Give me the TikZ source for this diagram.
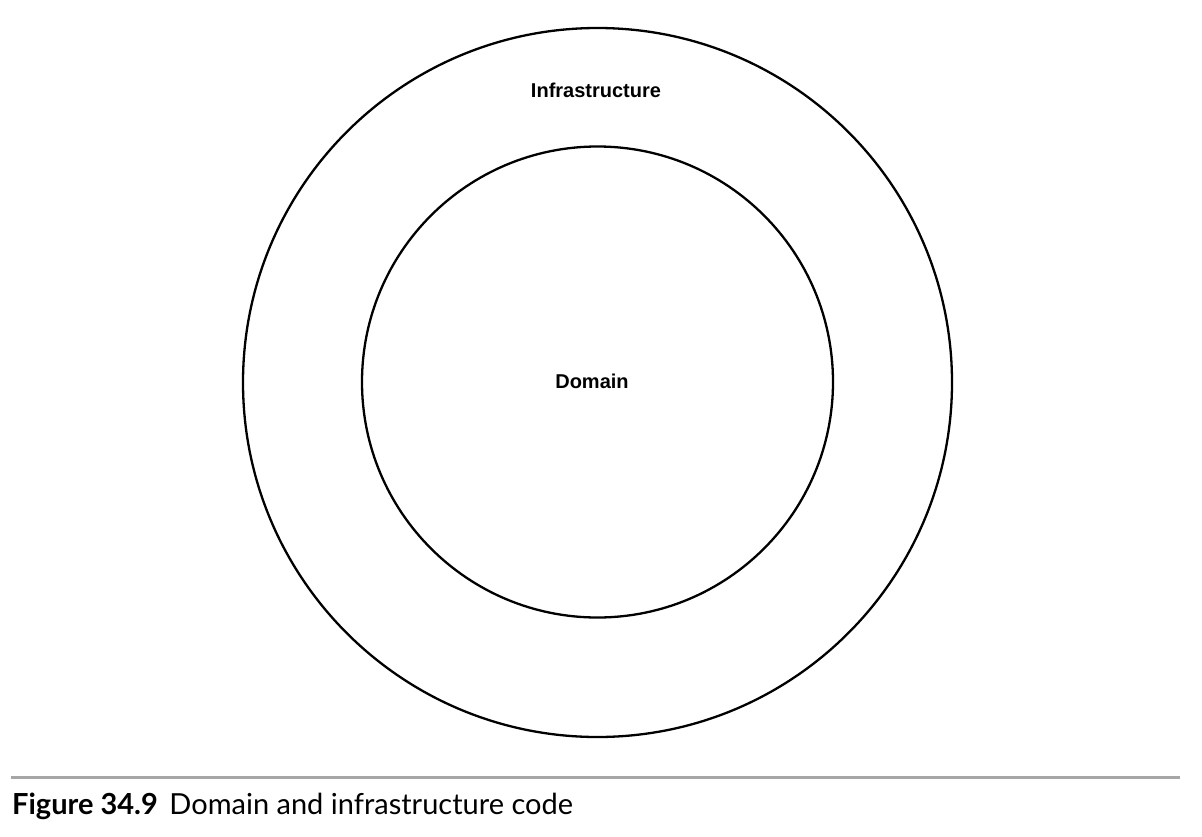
\documentclass[tikz,border=0pt]{standalone}
\usepackage{fontspec}
\setmainfont{Liberation Sans}
\newfontfamily\capfont{Lato}
\begin{document}
\begin{tikzpicture}[x=1pt,y=-1pt,
  ring/.style={draw=black,line width=2.3pt,circle,inner sep=0pt},
  lbl/.style={font=\fontsize{20}{23}\selectfont\bfseries,inner sep=0pt}]
\useasboundingbox (0,0) rectangle (1202,836);
\node[ring,minimum size=709pt] (outer) at (597.5,382.5) {};
\node[ring,minimum size=471pt] (inner) at (597.5,382) {};
\node[lbl] (infra) at (596,90) {Infrastructure};
\node[lbl] (domain) at (592,381) {Domain};
\draw[draw=black!35,line width=3pt] (11,777.5) -- (1180,777.5);
\node[anchor=base west,inner sep=0pt,font=\capfont\fontsize{29}{32}\selectfont] (cap) at (12,814)
  {\textbf{Figure 34.9}\hspace{0.4em}Domain and infrastructure code};
\end{tikzpicture}
\end{document}
